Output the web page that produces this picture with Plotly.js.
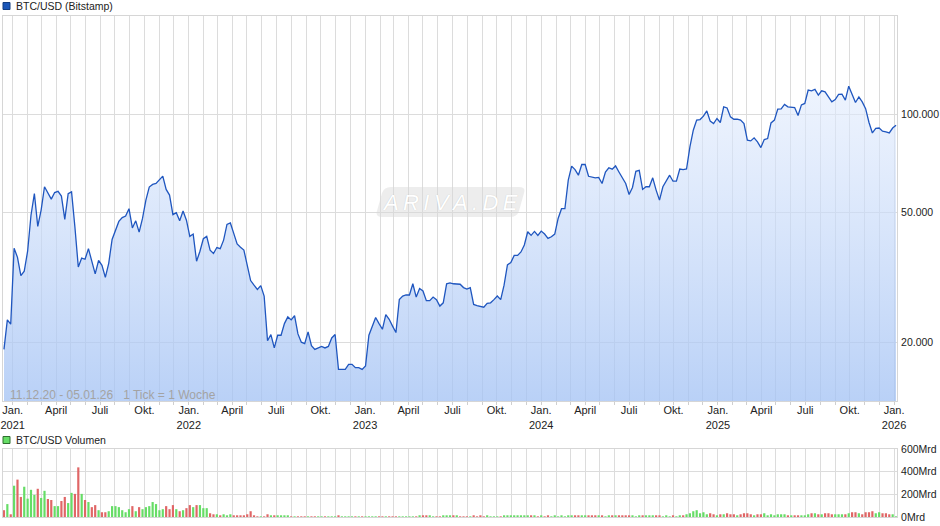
<!DOCTYPE html>
<html><head><meta charset="utf-8">
<script src="https://cdn.plot.ly/plotly-3.0.1.min.js"></script>
<style>html,body{margin:0;padding:0;background:#fff}#chart{width:940px;height:526px}</style>
</head><body><div id="chart"></div>
<script>
// ---- data (weekly, Mondays starting 14.12.2020) ----
const firstWeek = '2020-12-14';
const prices = [
 19000, 23400, 22700, 38800, 36400, 32000, 33000, 38000, 49000, 57100,
 45300, 50800, 59900, 57000, 54900, 57500, 58000, 56100, 47600, 57100,
 57800, 45000, 34000, 36200, 35900, 38700, 35600, 32400, 35600, 34400,
 31600, 34900, 41300, 44100, 46900, 48200, 48700, 51300, 44800, 47100,
 43500, 47900, 54500, 59800, 60900, 61300, 62800, 64600, 58800, 56500,
 49200, 49900, 47100, 50500, 47300, 42200, 42900, 35400, 38000, 41500,
 42200, 38300, 37400, 39000, 38700, 41100, 45900, 46400, 43100, 40000,
 39100, 38300, 34400, 30900, 29900, 29000, 29800, 27700, 20200, 21100,
 19200, 21000, 21000, 22800, 23900, 23400, 24100, 21200, 20000, 19800,
 21500, 19500, 19000, 19200, 19400, 19200, 19400, 20600, 21100, 16500,
 16500, 16500, 17100, 17100, 16700, 16700, 16500, 16900, 21000, 22500,
 23800, 22800, 21900, 24300, 23500, 22400, 21400, 27000, 27700, 27900,
 27900, 30200, 27500, 29200, 28700, 26800, 26800, 27500, 27000, 25800,
 26400, 30200, 30400, 30200, 30200, 30100, 29400, 29100, 29400, 26100,
 25900, 25800, 25600, 26300, 26400, 27000, 27700, 27000, 29900, 34500,
 35100, 36900, 36900, 37800, 39700, 43600, 42500, 43700, 42500, 43800,
 42900, 41600, 42100, 42900, 47900, 51300, 51300, 62800, 69300, 67600,
 65000, 70100, 70100, 64500, 64200, 63800, 64000, 61300, 66500, 68500,
 67800, 69400, 66500, 64000, 61300, 56700, 59600, 66800, 67300, 58800,
 59900, 59900, 63800, 58500, 54500, 59900, 62400, 65000, 62300, 62300,
 67900, 67600, 67900, 79400, 89300, 95900, 96300, 98600, 102300, 95200,
 93600, 97000, 94300, 105300, 104500, 98100, 96500, 96500, 95900, 93600,
 83200, 82800, 84600, 82200, 79000, 83600, 84200, 94000, 95900, 103600,
 103800, 107100, 105300, 105300, 104800, 99100, 106800, 107900, 118500, 117900,
 119100, 114400, 117900, 117100, 113000, 109100, 110900, 115000, 115200, 110400,
 121900, 114400, 108600, 113000, 109100, 104000, 94300, 87600, 90400, 90700,
 88700, 88200, 87600, 90700, 92500
];
// volume in Mrd
const volumes = [
 60,114,24,276,330,177,267,162,240,195,
 249,168,231,159,150,96,96,141,177,123,
 213,204,438,204,150,132,87,105,60,42,
 42,51,96,96,87,60,42,69,96,51,
 87,69,87,96,132,114,60,69,96,69,
 105,69,51,60,78,105,87,105,105,78,
 78,33,24,24,15,24,15,24,15,15,
 15,15,24,51,15,6,6,6,24,15,
 15,15,15,15,15,6,6,6,6,6,
 6,6,6,6,6,6,6,6,6,15,
 6,6,6,6,6,6,6,6,6,6,
 6,6,6,6,6,6,6,6,6,6,
 6,6,6,15,15,15,15,6,6,6,
 15,15,15,15,15,6,6,6,6,15,
 6,15,6,15,6,6,6,6,15,15,
 15,15,15,15,15,15,15,15,6,15,
 6,15,6,15,6,15,6,15,15,15,
 15,15,15,15,15,15,15,15,6,15,
 15,15,15,15,15,15,15,6,15,15,
 15,15,15,15,15,6,15,6,15,6,
 15,15,24,33,51,60,33,42,24,33,
 24,15,24,24,33,24,24,15,24,33,
 33,24,15,24,24,33,15,24,15,24,
 24,24,15,15,15,15,15,15,24,33,
 33,24,24,33,33,24,24,24,24,24,
 33,42,42,33,24,42,42,51,33,42,
 33,33,24,24,6
];
const tickDates = ['2021-01-01','2021-04-01','2021-07-01','2021-10-01',
 '2022-01-01','2022-04-01','2022-07-01','2022-10-01',
 '2023-01-01','2023-04-01','2023-07-01','2023-10-01',
 '2024-01-01','2024-04-01','2024-07-01','2024-10-01',
 '2025-01-01','2025-04-01','2025-07-01','2025-10-01','2026-01-01'];
const tickLabels = ['Jan.<br>2021','April','Juli','Okt.',
 'Jan.<br>2022','April','Juli','Okt.',
 'Jan.<br>2023','April','Juli','Okt.',
 'Jan.<br>2024','April','Juli','Okt.',
 'Jan.<br>2025','April','Juli','Okt.','Jan.<br>2026'];
const priceTickVals = [20000, 50000, 100000, 200000];
const priceTickText = ['20.000', '50.000', '100.000', ''];
const volTickVals = [0, 200, 400, 600];
const volTickText = ['0Mrd', '200Mrd', '400Mrd', '600Mrd'];
const priceName = 'BTC/USD (Bitstamp)';
const volName = 'BTC/USD Volumen';
const periodText = '11.12.20 - 05.01.26\u00a0\u00a0\u00a01 Tick = 1 Woche';

// ---- build ----
const t0 = Date.parse(firstWeek + 'T00:00:00Z');
const dates = prices.map((_, i) => new Date(t0 + i * 7 * 86400000).toISOString().slice(0, 10));
const volColors = volumes.map((_, i) => (i > 0 && prices[i] >= prices[i - 1]) ? '#66dd66' : '#e06666');

const W = 940, H = 526, M = {l: 3, r: 43, t: 16, b: 9};
const px = x => (x - M.l) / (W - M.l - M.r);
const py = y => (H - M.b - y) / (H - M.t - M.b);
const FONT = 'Liberation Sans, Arial, sans-serif';
const GRID = '#dcdcdc';
const xRange = ['2020-12-12', '2026-01-07'];

const traces = [
  {x: dates, y: prices, type: 'scatter', mode: 'lines', xaxis: 'x', yaxis: 'y',
   line: {color: '#1f56bf', width: 1.3}, fill: 'tozeroy',
   fillgradient: {type: 'vertical', start: 13200, stop: 200000,
     colorscale: [[0, 'rgba(163,194,244,0.76)'], [1, 'rgba(240,245,255,0.55)']]},
   hoverinfo: 'skip'},
  {x: dates, y: volumes, type: 'bar', xaxis: 'x2', yaxis: 'y2',
   marker: {color: volColors, line: {width: 0}}, hoverinfo: 'skip'}
];

const minorGrid = {dtick: 'M1', tick0: '2021-01-01', showgrid: true, gridcolor: GRID, gridwidth: 1,
  ticks: 'outside', ticklen: 3, tickcolor: '#cfcfcf'};

const layout = {
  width: W, height: H, margin: M, paper_bgcolor: '#fff', plot_bgcolor: '#fff',
  showlegend: false, bargap: 0.35, hovermode: false,
  font: {family: FONT, size: 11, color: '#222'},
  xaxis: {type: 'date', range: xRange, domain: [0, 1], anchor: 'y',
    tickmode: 'array', tickvals: tickDates, ticktext: tickLabels,
    showgrid: true, gridcolor: GRID, gridwidth: 1, ticks: 'outside', ticklen: 3, tickcolor: '#cfcfcf',
    ticklabelstandoff: -4,
    tickfont: {family: FONT, size: 11, color: '#222'},
    showline: true, linecolor: '#d6d6d6', linewidth: 1, mirror: true, zeroline: false,
    minor: Object.assign({}, minorGrid)},
  yaxis: {type: 'log', range: [Math.log10(13200), Math.log10(200000)], domain: [py(401), 1],
    anchor: 'x', side: 'right', tickmode: 'array', tickvals: priceTickVals, ticktext: priceTickText,
    showgrid: true, gridcolor: GRID, gridwidth: 1, ticks: '', ticklabelstandoff: 1,
    tickfont: {family: FONT, size: 10.5, color: '#222'},
    showline: true, linecolor: '#d6d6d6', linewidth: 1, mirror: true, zeroline: false},
  xaxis2: {type: 'date', range: xRange, domain: [0, 1], anchor: 'y2',
    tickmode: 'array', tickvals: tickDates, showticklabels: false,
    showgrid: true, gridcolor: GRID, gridwidth: 1, ticks: '',
    showline: true, linecolor: '#d6d6d6', linewidth: 1, mirror: true, zeroline: false,
    minor: Object.assign({}, minorGrid, {ticks: ''})},
  yaxis2: {range: [0, 600], domain: [0, py(449)], anchor: 'x2', side: 'right',
    tickmode: 'array', tickvals: volTickVals, ticktext: volTickText,
    showgrid: true, gridcolor: GRID, gridwidth: 1, ticks: '', ticklabelstandoff: 1,
    tickfont: {family: FONT, size: 10.5, color: '#222'},
    showline: true, linecolor: '#d6d6d6', linewidth: 1, mirror: true, zeroline: false},
  shapes: [
    {type: 'rect', xref: 'paper', yref: 'paper', x0: px(3), x1: px(10), y0: py(9.5), y1: py(2.5),
     fillcolor: '#1a56b8', line: {color: '#123c80', width: 1}},
    {type: 'rect', xref: 'paper', yref: 'paper', x0: px(3), x1: px(10), y0: py(443.5), y1: py(436.5),
     fillcolor: '#66dd66', line: {color: '#2f6e2f', width: 1}},
    {type: 'path', xref: 'paper', yref: 'paper', layer: 'above',
     path: `M ${px(391)},${py(187)} L ${px(519)},${py(187)} Q ${px(526)},${py(187)} ${px(524)},${py(193)} L ${px(519)},${py(211)} Q ${px(517)},${py(217)} ${px(510)},${py(217)} L ${px(382)},${py(217)} Q ${px(375)},${py(217)} ${px(377)},${py(211)} L ${px(382)},${py(193)} Q ${px(384)},${py(187)} ${px(391)},${py(187)} Z`,
     fillcolor: 'rgba(215,215,215,0.45)', line: {width: 0}}
  ],
  annotations: [
    {xref: 'paper', yref: 'paper', x: px(14), y: py(6), xanchor: 'left', yanchor: 'middle',
     text: priceName, showarrow: false, font: {family: FONT, size: 10.5, color: '#222'}},
    {xref: 'paper', yref: 'paper', x: px(14), y: py(440), xanchor: 'left', yanchor: 'middle',
     text: volName, showarrow: false, font: {family: FONT, size: 10.5, color: '#222'}},
    {xref: 'paper', yref: 'paper', x: px(8), y: py(395), xanchor: 'left', yanchor: 'middle',
     text: periodText, showarrow: false, font: {family: FONT, size: 12, color: '#a3a3a3'}},
    {xref: 'paper', yref: 'paper', x: px(450), y: py(202), xanchor: 'center', yanchor: 'middle',
     text: 'A\u2009R\u2009I\u2009V\u2009A\u2009.\u2009D\u2009E', showarrow: false,
     font: {family: FONT, size: 22, color: '#ffffff', style: 'italic', shadow: '0 0 1px rgba(0,0,0,0.18)'}}
  ]
};

Plotly.newPlot('chart', traces, layout, {staticPlot: true, displayModeBar: false});
</script>
</body></html>
